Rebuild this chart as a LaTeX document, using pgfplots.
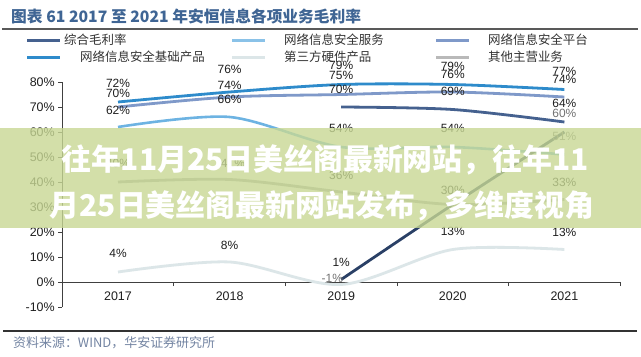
\documentclass[border=0pt]{standalone}
\usepackage{fontspec}
\setmainfont{Liberation Sans}
\newfontfamily\cjk{Noto Sans CJK SC}
\usepackage{pgfplots}
\pgfplotsset{compat=1.18}
\definecolor{cBase}{HTML}{2E8BCB}
\definecolor{cPlat}{HTML}{7F99C9}
\definecolor{cZH}{HTML}{45618F}
\definecolor{cSvc}{HTML}{6DB3E2}
\definecolor{cThird}{HTML}{DCE6E8}
\definecolor{cOther}{HTML}{A8A8A8}
\definecolor{cSteep}{HTML}{2A4066}
\definecolor{titleblue}{HTML}{3F6594}
\definecolor{srcblue}{HTML}{7485A3}
\definecolor{ovl}{HTML}{C8D894}
\newcommand{\lab}[4][black!88]{\node[text=#1, font=\fontsize{12}{14}\selectfont] at (axis cs:#2,#3) {#4};}
\begin{document}
\begin{tikzpicture}
\begin{scope}[x=1bp,y=1bp]
\fill[white] (0,0) rectangle (641,356);
% title
\node[anchor=west, text=titleblue, font=\cjk\bfseries\fontsize{15.8}{18}\selectfont, inner sep=0] at (11,340) {图表 61 2017 至 2021 年安恒信息各项业务毛利率};
\draw[line width=1.5bp, black!65] (2,327) -- (638,327);
% legend
\begin{scope}[every node/.style={anchor=west, inner sep=0, font=\cjk\fontsize{12.5}{14}\selectfont, text=black!80}]
\draw[cZH, line width=3bp] (27,316) -- (60,316); \node at (64,316) {综合毛利率};
\draw[cSvc!80, line width=3bp] (232,316) -- (265,316); \node at (284,316) {网络信息安全服务};
\draw[cPlat, line width=3bp] (436,316) -- (469,316); \node at (488,316) {网络信息安全平台};
\draw[cBase, line width=3bp] (27,299) -- (60,299); \node at (80,299) {网络信息安全基础产品};
\draw[cThird, line width=3bp] (232,299) -- (265,299); \node at (284,299) {第三方硬件产品};
\draw[cOther!80, line width=3bp] (436,299) -- (469,299); \node at (488,299) {其他主营业务};
\end{scope}
\coordinate (orig) at (118,74);
\end{scope}
\begin{axis}[
  at={(orig)}, anchor=origin,
  width=558bp, height=225bp, scale only axis,
  xmin=-0.5, xmax=4.5, ymin=-10, ymax=80,
  axis x line=middle, axis y line=left,
  hide obscured x ticks=false,
  axis line style={-, black!75, line width=0.8bp},
  xtick={-0.5,0.5,...,4.5}, x tick label as interval,
  xticklabels={2017,2018,2019,2020,2021},
  ytick={-10,0,...,80},
  yticklabel={\pgfmathprintnumber{\tick}\%},
  /pgf/number format/assume math mode=true,
  tick align=outside, major tick length=4bp,
  tick style={black!75, line width=0.8bp},
  ticklabel style={font=\fontsize{12.5}{14}\selectfont, text=black!88},
  xticklabel style={yshift=-2bp},
  clip=false,
  smooth, tension=0.5,
]
\addplot[cThird, line width=2.8bp] coordinates {(0,4)(1,8)(2,-1)(3,13)(4,13)};
\addplot[cOther, line width=2.8bp] coordinates {(0,40)(1,41)(2,36)(3,31)(4,33)};
\addplot[cSvc, line width=2.6bp] coordinates {(0,62)(1,66)(2,54)(3,54)(4,51)};
\addplot[cPlat, line width=2.8bp] coordinates {(0,70)(1,74)(2,75)(3,76)(4,74)};
\addplot[cBase, line width=2.8bp] coordinates {(0,72)(1,76)(2,79)(3,79)(4,77)};
\addplot[cZH, line width=2.8bp] coordinates {(2,70)(3,69)(4,64)};
\addplot[cSteep, line width=2.8bp] coordinates {(2,1)(3,31)(4,60)};
% data labels
\lab{0}{79.6}{72\%} \lab{0}{75.6}{70\%} \lab{0}{68.8}{62\%} \lab{0}{47.6}{40\%} \lab{0}{11.6}{4\%}
\lab{1}{85.2}{76\%} \lab{1}{78.8}{74\%} \lab{1}{73.2}{66\%} \lab{1.03}{47.6}{41\%} \lab{1}{14.8}{8\%}
\lab{2}{86.8}{79\%} \lab{2}{82.8}{75\%} \lab{2}{77.2}{70\%} \lab{2}{61.6}{54\%} \lab{2}{42.8}{36\%} \lab{2}{8}{1\%}
\lab[black!55]{1.92}{1.6}{-1\%}
\lab{3}{86.4}{79\%} \lab{3}{83.2}{76\%} \lab{3}{76.4}{69\%} \lab{3}{61.6}{54\%} \lab{3}{36.8}{30\%} \lab{3}{20.4}{13\%}
\lab{4}{84.4}{77\%} \lab{4}{81.2}{74\%} \lab{4}{71.6}{64\%} \lab[black!55]{4}{67.6}{60\%} \lab[black!55]{4}{58.4}{51\%} \lab{4}{40}{33\%} \lab{4}{20}{13\%}
\end{axis}
\begin{scope}[x=1bp,y=1bp]
% overlay band
\fill[ovl, opacity=0.8] (0,128) rectangle (641,228);
\node[text=white, font=\cjk\bfseries\fontsize{30}{34}\selectfont, inner sep=0] at (325,196) {往年11月25日美丝阁最新网站，往年11};
\node[text=white, font=\cjk\bfseries\fontsize{30}{34}\selectfont, inner sep=0] at (322,150) {月25日美丝阁最新网站发布，多维度视角};
% bottom
\draw[line width=1.2bp, black!80] (3,25) -- (637,25);
\node[anchor=west, inner sep=0, text=srcblue, font=\cjk\fontsize{13}{15}\selectfont] at (13,13) {资料来源：WIND，华安证券研究所};
\end{scope}
\end{tikzpicture}
\end{document}
